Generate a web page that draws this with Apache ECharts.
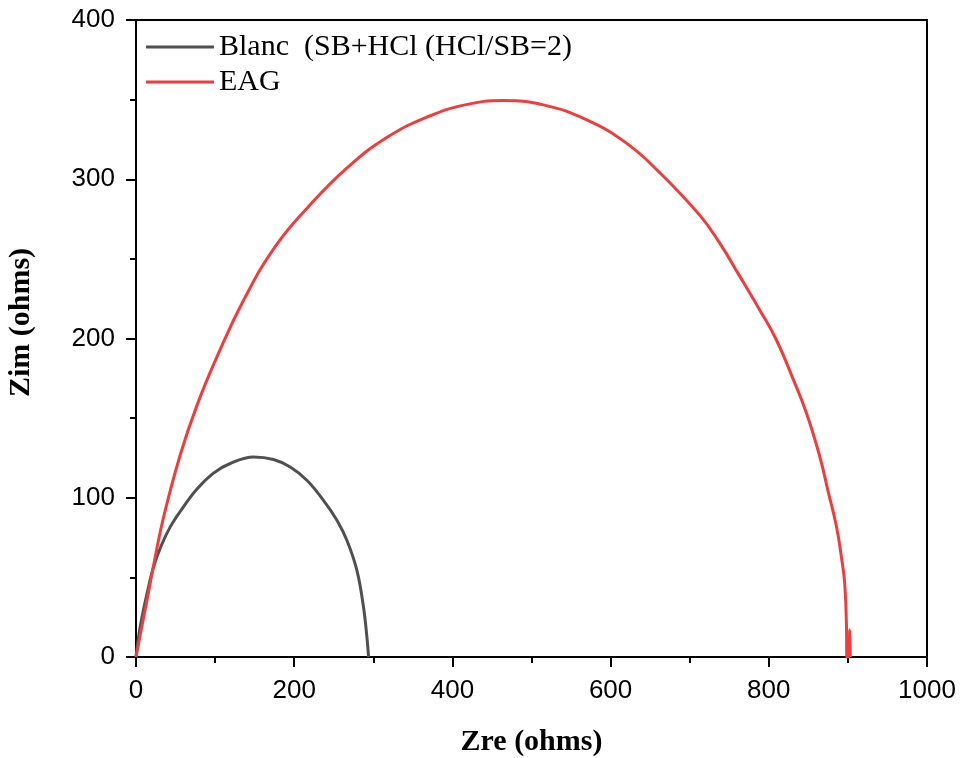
<!DOCTYPE html>
<html>
<head>
<meta charset="utf-8">
<script src="https://cdn.jsdelivr.net/npm/echarts@6/dist/echarts.min.js"></script>
<style>html,body{margin:0;padding:0;background:#fff;}#c{width:960px;height:758px;}</style>
</head>
<body>
<div id="c"></div>
<script>
const seriesNames = ['Blanc  (SB+HCl (HCl/SB=2)', 'EAG'];
const blancZre = [0, 3, 7.6, 14, 22.2, 32, 43.3, 56, 77.1, 98, 119.1, 148.6, 173.9, 195, 216, 237, 254, 266.6, 279.2, 287.6, 291.9, 294];
const blancZim = [0, 12, 25.1, 40, 56.5, 70, 81.7, 91.5, 105.5, 115.5, 121.5, 125.6, 124, 119.3, 111, 98.4, 85.9, 73.3, 54.5, 31.4, 12.6, 0];
const eagZre = [0, 5, 13.9, 24, 34.9, 56, 77.1, 102.3, 136, 176, 218, 268.6, 319, 369.7, 416, 464.4, 515, 569.8, 620, 662.4, 712.9, 738.2, 763.4, 788.7, 809.8, 830.8, 847.7, 864.6, 875, 885.6, 892, 896, 898.3, 898.6, 901, 902.5, 903];
const eagZim = [0, 13, 35.6, 62, 87.9, 127, 158, 188.4, 224, 257.7, 282.8, 307.9, 326.8, 339.4, 346.7, 349.4, 346.7, 337.3, 322.7, 304, 277.3, 259.7, 239, 217.8, 198.9, 174.5, 153, 125.6, 104, 81.8, 62, 46, 16.8, 0, 0, 17, 0];
const xTicks = [0, 200, 400, 600, 800, 1000];
const yTicks = [0, 100, 200, 300, 400];

const zip = (a, b) => a.map((v, i) => [v, b[i]]);
const chart = echarts.init(document.getElementById('c'));
const axisLabelStyle = {color: '#000', fontSize: 26, fontFamily: 'Liberation Sans, Arial, sans-serif'};
const nameStyle = {color: '#000', fontSize: 30, fontWeight: 'bold', fontFamily: 'Liberation Serif, Times New Roman, serif'};
chart.setOption({
  animation: false,
  backgroundColor: '#fff',
  grid: {left: 136, right: 33, top: 20, bottom: 101, containLabel: false, outerBoundsMode: 'none',
         show: true, borderColor: '#000', borderWidth: 2, backgroundColor: 'transparent'},
  legend: {
    orient: 'vertical', left: 141, top: 27, itemWidth: 68, itemHeight: 3, itemGap: 5, icon: 'rect',
    textStyle: {color: '#000', fontSize: 30, lineHeight: 30, fontFamily: 'Liberation Serif, Times New Roman, serif'},
    data: seriesNames
  },
  xAxis: {
    type: 'value', min: xTicks[0], max: xTicks[xTicks.length - 1], interval: 200,
    name: 'Zre (ohms)', nameLocation: 'middle', nameGap: 70, nameTextStyle: nameStyle,
    axisLine: {show: true, lineStyle: {color: '#000', width: 2}},
    axisTick: {show: true, length: 10, lineStyle: {color: '#000', width: 2}},
    minorTick: {show: true, splitNumber: 2, length: 6, lineStyle: {color: '#000', width: 2}},
    splitLine: {show: false},
    axisLabel: Object.assign({margin: 21, formatter: v => String(v)}, axisLabelStyle)
  },
  yAxis: {
    type: 'value', min: yTicks[0], max: yTicks[yTicks.length - 1], interval: 100,
    name: 'Zim (ohms)', nameLocation: 'middle', nameGap: 100,
    nameTextStyle: Object.assign({padding: [0, 0, 0, 32]}, nameStyle),
    axisLine: {show: true, lineStyle: {color: '#000', width: 2}},
    axisTick: {show: true, length: 10, lineStyle: {color: '#000', width: 2}},
    minorTick: {show: true, splitNumber: 2, length: 6, lineStyle: {color: '#000', width: 2}},
    splitLine: {show: false},
    axisLabel: Object.assign({margin: 21}, axisLabelStyle)
  },
  series: [
    {name: seriesNames[0], type: 'line', data: zip(blancZre, blancZim), symbol: 'none', smooth: 0.4,
     lineStyle: {color: '#505050', width: 3}, itemStyle: {color: '#505050'}},
    {name: seriesNames[1], type: 'line', data: zip(eagZre, eagZim), symbol: 'none', smooth: 0.45,
     lineStyle: {color: '#f03c3c', width: 3}, itemStyle: {color: '#f03c3c'}}
  ]
});
</script>
</body>
</html>
